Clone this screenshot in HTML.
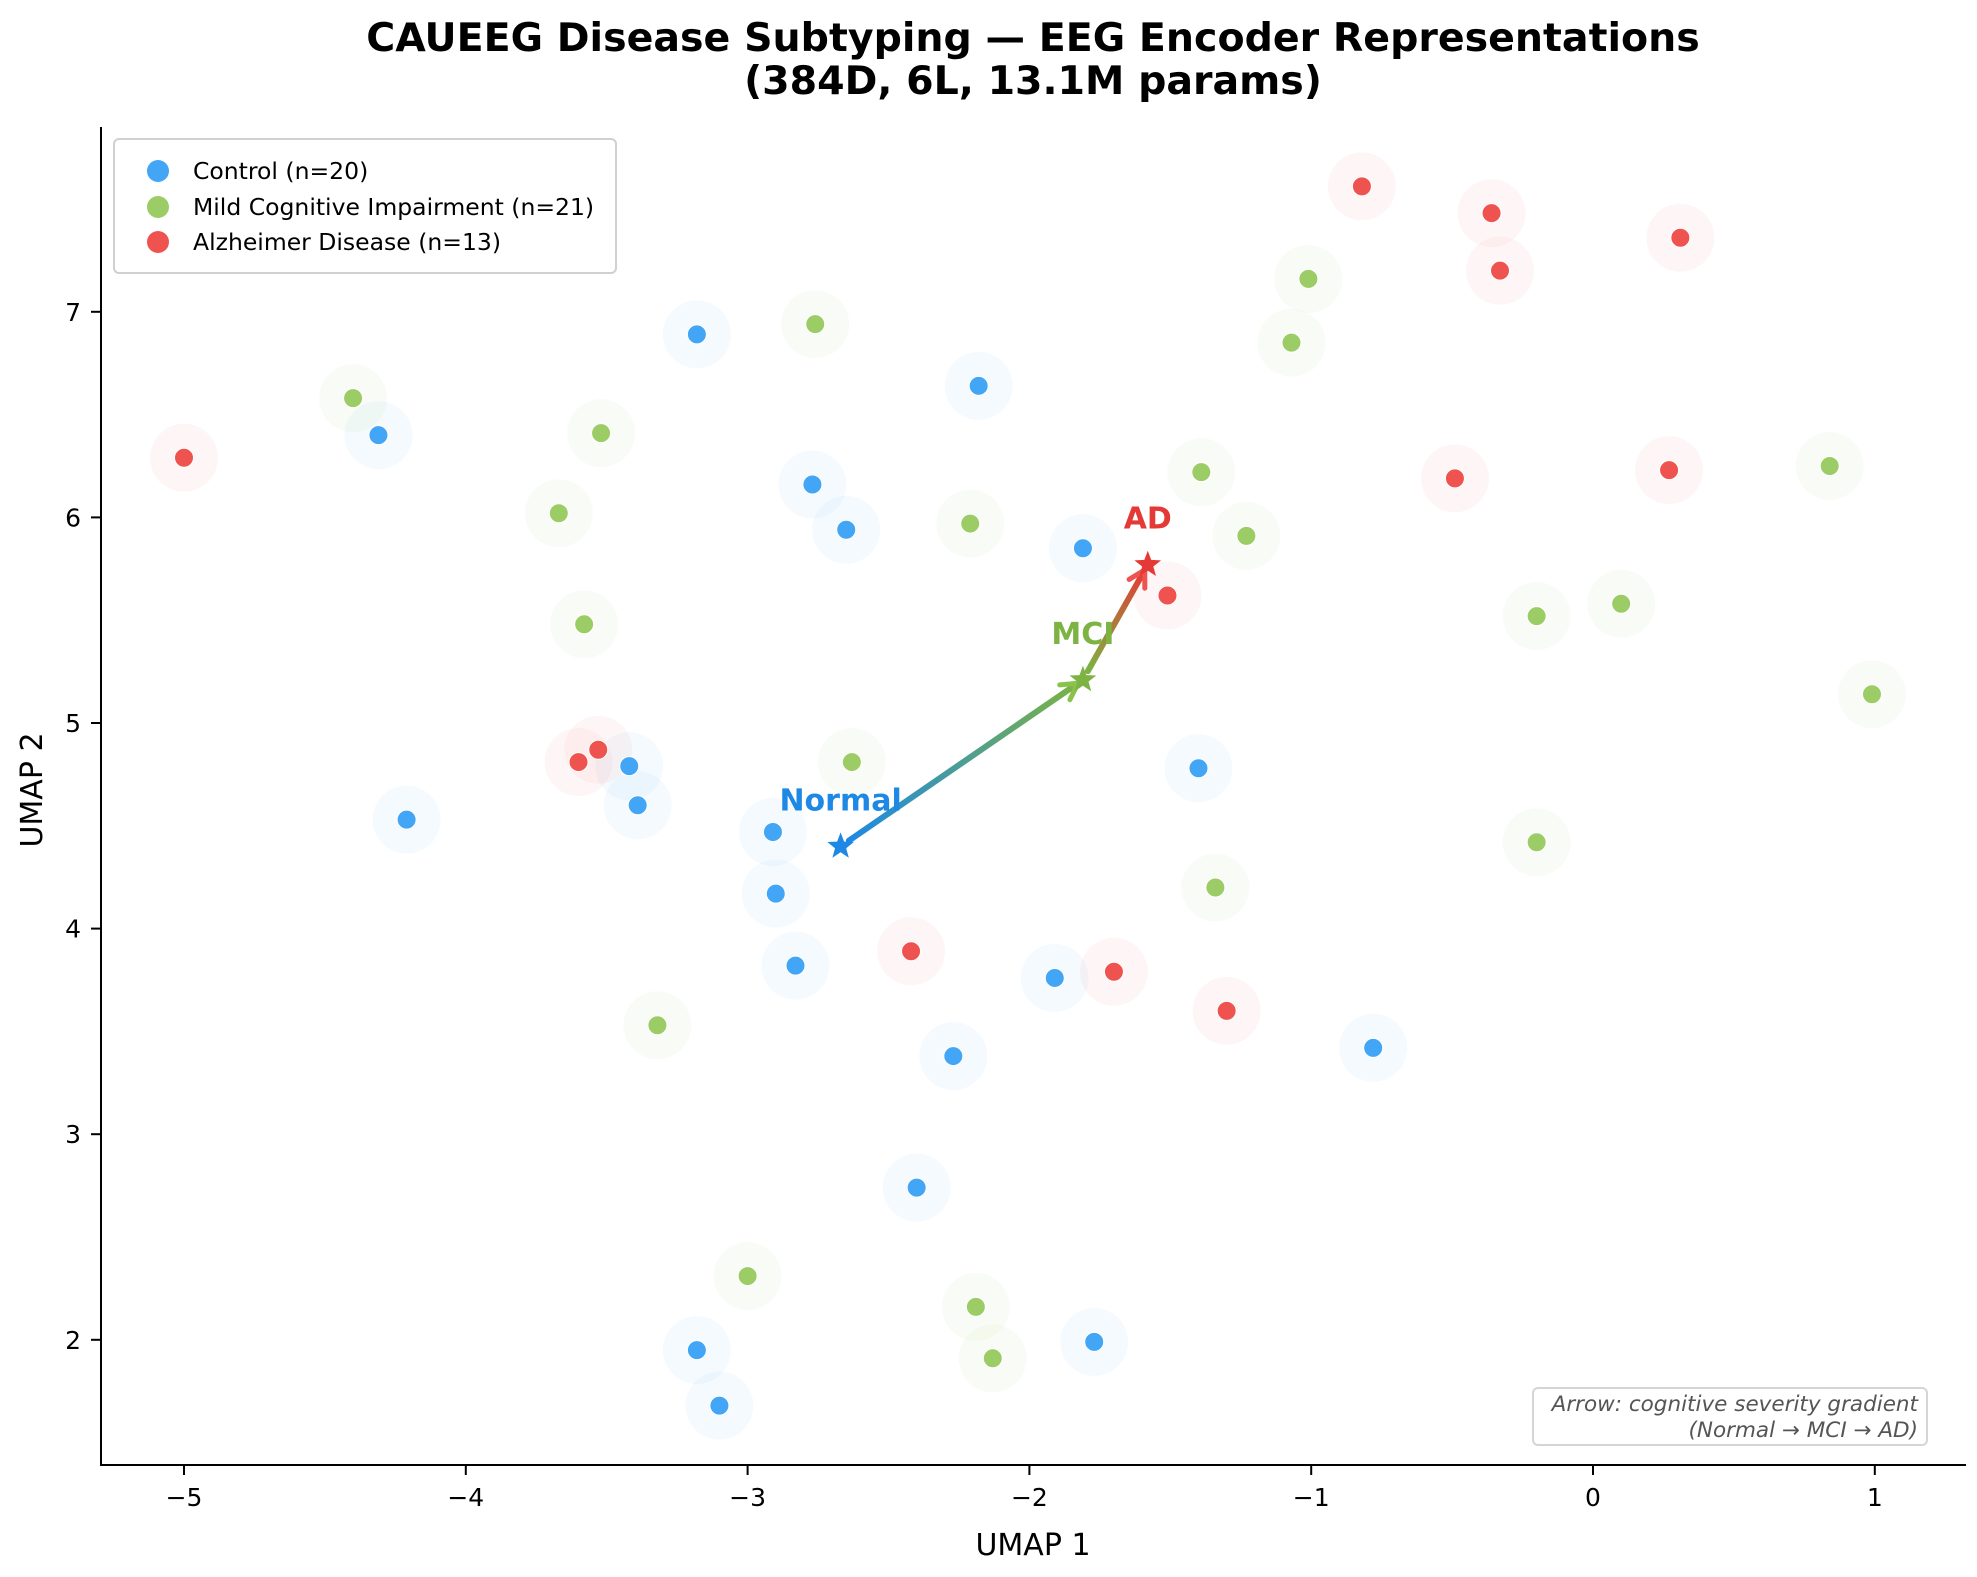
<!DOCTYPE html>
<html><head><meta charset="utf-8"><style>
html,body{margin:0;padding:0;background:#fff;}
svg{display:block;font-family:"DejaVu Sans","Liberation Sans",sans-serif;}
</style></head><body>
<svg id="chart" width="1977" height="1577" viewBox="0 0 1977 1577">
<defs>
<linearGradient id="g1" gradientUnits="userSpaceOnUse" x1="0" y1="0" x2="1" y2="0"><stop offset="0" stop-color="#1e88e5"/><stop offset="1" stop-color="#7cb342"/></linearGradient>
<linearGradient id="g2" gradientUnits="userSpaceOnUse" x1="0" y1="0" x2="1" y2="0"><stop offset="0" stop-color="#7cb342"/><stop offset="1" stop-color="#e53935"/></linearGradient>
</defs>
<text x="1033" y="51" text-anchor="middle" font-size="39.5" font-weight="bold">CAUEEG Disease Subtyping — EEG Encoder Representations</text>
<text x="1033" y="94" text-anchor="middle" font-size="39.5" font-weight="bold">(384D, 6L, 13.1M params)</text>
<g id="halos"></g><g id="dots"></g><g id="axes"></g><g id="arrows"></g>
<g>
<rect x="114" y="139" width="502" height="134" rx="5" fill="#fff" stroke="#d0d0d0" stroke-width="2"/>
<circle cx="158" cy="171" r="11" fill="#42a5f5"/><text x="193" y="179" font-size="23.5">Control (n=20)</text>
<circle cx="158" cy="207" r="11" fill="#9ccc65"/><text x="193" y="215" font-size="23.5">Mild Cognitive Impairment (n=21)</text>
<circle cx="158" cy="242" r="11" fill="#ef5350"/><text x="193" y="250" font-size="23.5">Alzheimer Disease (n=13)</text>
</g>
<g>
<rect x="1533" y="1388" width="394" height="57" rx="5" fill="#fff" stroke="#d5d5d5" stroke-width="2"/>
<text x="1918" y="1411" text-anchor="end" font-size="21.5" font-style="italic" fill="#555">Arrow: cognitive severity gradient</text>
<text x="1918" y="1437" text-anchor="end" font-size="21.5" font-style="italic" fill="#555">(Normal → MCI → AD)</text>
</g>
<text x="1033" y="1555" text-anchor="middle" font-size="30">UMAP 1</text>
<text transform="translate(42,790) rotate(-90)" text-anchor="middle" font-size="30">UMAP 2</text>
</svg>
<script>
const ctrlX=[-3.18,-2.18,-4.31,-2.77,-2.65,-1.81,-3.42,-3.39,-4.21,-2.91,-2.90,-2.83,-1.40,-1.91,-2.27,-0.78,-2.40,-3.18,-1.77,-3.10];
const ctrlY=[6.89,6.64,6.40,6.16,5.94,5.85,4.79,4.60,4.53,4.47,4.17,3.82,4.78,3.76,3.38,3.42,2.74,1.95,1.99,1.68];
const mciX=[-2.76,-1.01,-1.07,-4.40,-3.52,-3.67,-1.39,-2.21,-1.23,-3.58,-0.20,0.10,0.84,0.99,-2.63,-0.20,-1.34,-3.32,-3.00,-2.19,-2.13];
const mciY=[6.94,7.16,6.85,6.58,6.41,6.02,6.22,5.97,5.91,5.48,5.52,5.58,6.25,5.14,4.81,4.42,4.20,3.53,2.31,2.16,1.91];
const adX=[-0.82,-0.36,-0.33,0.31,-5.00,-0.49,0.27,-1.51,-3.60,-3.53,-2.42,-1.70,-1.30];
const adY=[7.61,7.48,7.20,7.36,6.29,6.19,6.23,5.62,4.81,4.87,3.89,3.79,3.60];
const centroidNames=["Normal","MCI","AD"];
const centroidX=[-2.67,-1.81,-1.58];
const centroidY=[4.40,5.21,5.77];
const xTicks=[-5,-4,-3,-2,-1,0,1];
const yTicks=[2,3,4,5,6,7];
const xTickLabels=["−5","−4","−3","−2","−1","0","1"];
const yTickLabels=["2","3","4","5","6","7"];

const NS="http://www.w3.org/2000/svg";
function sx(v){return 1593+v*281.8;}
function sy(v){return 1751-v*205.6;}
function mk(tag,attrs,parent){const e=document.createElementNS(NS,tag);for(const k in attrs)e.setAttribute(k,attrs[k]);parent.appendChild(e);return e;}
const halos=document.getElementById('halos'),dots=document.getElementById('dots'),axes=document.getElementById('axes'),arrows=document.getElementById('arrows');

function series(xs,ys,col,halo,name){
  for(let i=0;i<xs.length;i++){
    const h=mk('circle',{cx:sx(xs[i]),cy:sy(ys[i]),r:34,fill:halo},halos);
    
    
    const d=mk('circle',{cx:sx(xs[i]),cy:sy(ys[i]),r:9.5,fill:col,stroke:'#fff','stroke-width':1},dots);
    
    
  }
}
series(ctrlX,ctrlY,'#42a5f5','rgba(66,165,245,0.05)','control');
series(mciX,mciY,'#9ccc65','rgba(156,204,101,0.06)','mci');
series(adX,adY,'#ef5350','rgba(239,83,80,0.05)','ad');

let l=mk('line',{x1:101,y1:127,x2:101,y2:1465,stroke:'#000','stroke-width':2},axes);


l=mk('line',{x1:100,y1:1465,x2:1966,y2:1465,stroke:'#000','stroke-width':2},axes);


xTicks.forEach((v,i)=>{
  mk('line',{x1:sx(v),y1:1465,x2:sx(v),y2:1475,stroke:'#000','stroke-width':2},axes);
  const t=mk('text',{x:sx(v),y:1506,'text-anchor':'middle','font-size':25},axes);
  t.textContent=xTickLabels[i];
  
  
});
yTicks.forEach((v,i)=>{
  mk('line',{x1:91,y1:sy(v),x2:101,y2:sy(v),stroke:'#000','stroke-width':2},axes);
  const t=mk('text',{x:81,y:sy(v)+9,'text-anchor':'end','font-size':25},axes);
  t.textContent=yTickLabels[i];
  
  
});

function arrow(i,j,grad,name){
  const x1=sx(centroidX[i]),y1=sy(centroidY[i]),x2=sx(centroidX[j]),y2=sy(centroidY[j]);
  const dx=x2-x1,dy=y2-y1,L=Math.hypot(dx,dy),ux=dx/L,uy=dy/L;
  const sxp=x1+ux*10,syp=y1+uy*10,ex=x2-ux*6,ey=y2-uy*6;
  const g=document.getElementById(grad);
  g.setAttribute('x1',sxp);g.setAttribute('y1',syp);g.setAttribute('x2',ex);g.setAttribute('y2',ey);
  const p=mk('line',{x1:sxp,y1:syp,x2:ex,y2:ey,stroke:'url(#'+grad+')','stroke-width':6,'stroke-linecap':'round'},arrows);
  
  
  const px=-uy,py=ux,hl=16,hw=9;
  const hx=ex-ux*hl,hy=ey-uy*hl;
  const col=j===1?'#8bc34a':'#ef5350';
  mk('polyline',{points:`${hx+px*hw},${hy+py*hw} ${ex},${ey} ${hx-px*hw},${hy-py*hw}`,fill:'none',stroke:col,'stroke-width':5,'stroke-linecap':'round','stroke-linejoin':'round'},arrows);
}
arrow(0,1,'g1','arrow-normal-to-mci');
arrow(1,2,'g2','arrow-mci-to-ad');
const cCols=['#1e88e5','#7cb342','#e53935'];
function star(cx,cy,r){let pts=[];for(let k=0;k<10;k++){const a=-Math.PI/2+k*Math.PI/5,rr=k%2?r*0.42:r;pts.push((cx+rr*Math.cos(a)).toFixed(1)+','+(cy+rr*Math.sin(a)).toFixed(1));}return pts.join(' ');}
centroidNames.forEach((n,i)=>{
  const cx=sx(centroidX[i]),cy=sy(centroidY[i]);
  const s=mk('polygon',{points:star(cx,cy,14),fill:cCols[i]},arrows);
  
  
  const t=mk('text',{x:cx,y:cy-36,'text-anchor':'middle','font-size':30,'font-weight':'bold',fill:cCols[i]},arrows);
  t.textContent=n;
  
  
});
</script>
</body></html>
